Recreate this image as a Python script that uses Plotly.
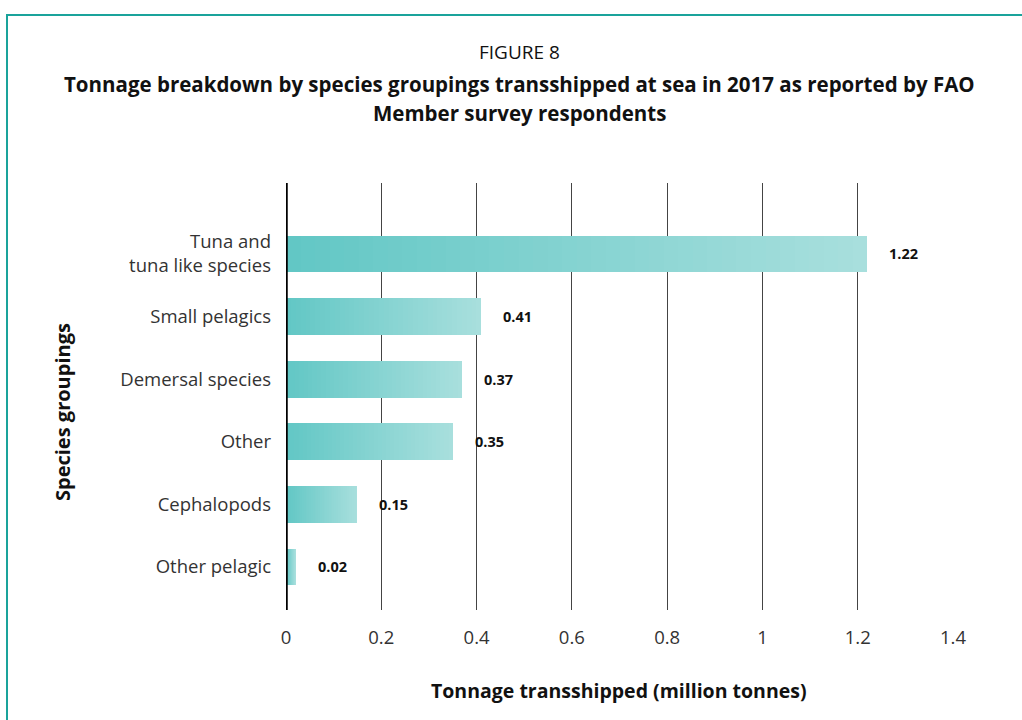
import plotly.graph_objects as go

categories = ["Other pelagic", "Cephalopods", "Other", "Demersal species",
              "Small pelagics", "Tuna and<br>tuna like species"]
values = [0.02, 0.15, 0.35, 0.37, 0.41, 1.22]
value_labels = ["0.02", "0.15", "0.35", "0.37", "0.41", "1.22"]
x_ticks = [0, 0.2, 0.4, 0.6, 0.8, 1, 1.2, 1.4]
x_ticklabels = ["0", "0.2", "0.4", "0.6", "0.8", "1", "1.2", "1.4"]

W, H = 1022, 720
L, R, T, B = 286, 953, 183, 610

dark = (98, 199, 197)
light = (168, 223, 221)
N = 40

fig = go.Figure()
# gradient bars: overlay progressively shorter bars, lighter at the end
for k in range(N):
    frac = (N - k) / N
    t = 1 - k / (N - 1)
    c = tuple(round(dark[i] + (light[i] - dark[i]) * t) for i in range(3))
    fig.add_trace(go.Bar(
        y=categories, x=[v * frac for v in values], orientation="h",
        marker=dict(color="rgb(%d,%d,%d)" % c, line=dict(width=0)),
        width=0.59, hoverinfo="skip", showlegend=False))

fontf = "Open Sans"
for cat, v, lab in zip(categories, values, value_labels):
    fig.add_annotation(x=v, y=cat, text="<b>%s</b>" % lab, showarrow=False,
                       xanchor="left", yanchor="middle", xshift=20,
                       font=dict(family=fontf, size=14.5, color="#111"))

fig.update_layout(
    width=W, height=H,
    margin=dict(l=L, r=W - R, t=T, b=H - B, pad=0),
    paper_bgcolor="white", plot_bgcolor="white",
    barmode="overlay", bargap=0,
    font=dict(family=fontf, color="#222"),
    xaxis=dict(range=[0, 1.4], tickvals=x_ticks, ticktext=x_ticklabels,
               showgrid=True, gridcolor="#444", gridwidth=1,
               zeroline=False, showline=False,
               tickfont=dict(size=18.5, color="#333", family=fontf),
               ticks="", ticklabelstandoff=14, fixedrange=True),
    yaxis=dict(range=[-0.687, 6.134], showgrid=False, zeroline=False,
               showline=False, tickfont=dict(size=18.5, color="#333", family=fontf),
               ticks="", ticklabelstandoff=14, fixedrange=True),
)

# y axis line at x=0 (thick)
fig.add_shape(type="line", xref="x", yref="paper", x0=0, x1=0, y0=0, y1=1,
              line=dict(color="#000", width=3.5), layer="above")

def px_x(p):
    return (p - L) / (R - L)

def px_y(p):
    return (B - p) / (B - T)

# teal frame (top and left edges)
fig.add_shape(type="rect", xref="paper", yref="paper",
              x0=px_x(7), x1=px_x(1040), y0=px_y(740), y1=px_y(15),
              line=dict(color="#1aa39b", width=2), fillcolor="rgba(0,0,0,0)")

def text_at(px, py, txt, size, angle=0):
    fig.add_annotation(xref="paper", yref="paper", x=px_x(px), y=px_y(py),
                       text=txt, showarrow=False, xanchor="center",
                       yanchor="middle", textangle=angle,
                       font=dict(family=fontf, size=size, color="#111"))

text_at(519, 52, "FIGURE 8", 19)
text_at(519, 84, "<b>Tonnage breakdown by species groupings transshipped at sea in 2017 as reported by FAO</b>", 20.5)
text_at(519, 113, "<b>Member survey respondents</b>", 20.5)
text_at(619, 690, "<b>Tonnage transshipped (million tonnes)</b>", 19.5)
text_at(62, 412, "<b>Species groupings</b>", 20, angle=-90)

fig.write_html("out.html", config={"displayModeBar": False})

# remove default page margin so the figure sits at the window origin
with open("out.html", encoding="utf-8") as f:
    html = f.read()
html = html.replace("<head>", "<head><style>html,body{margin:0;padding:0;overflow:hidden}</style>", 1)
with open("out.html", "w", encoding="utf-8") as f:
    f.write(html)
